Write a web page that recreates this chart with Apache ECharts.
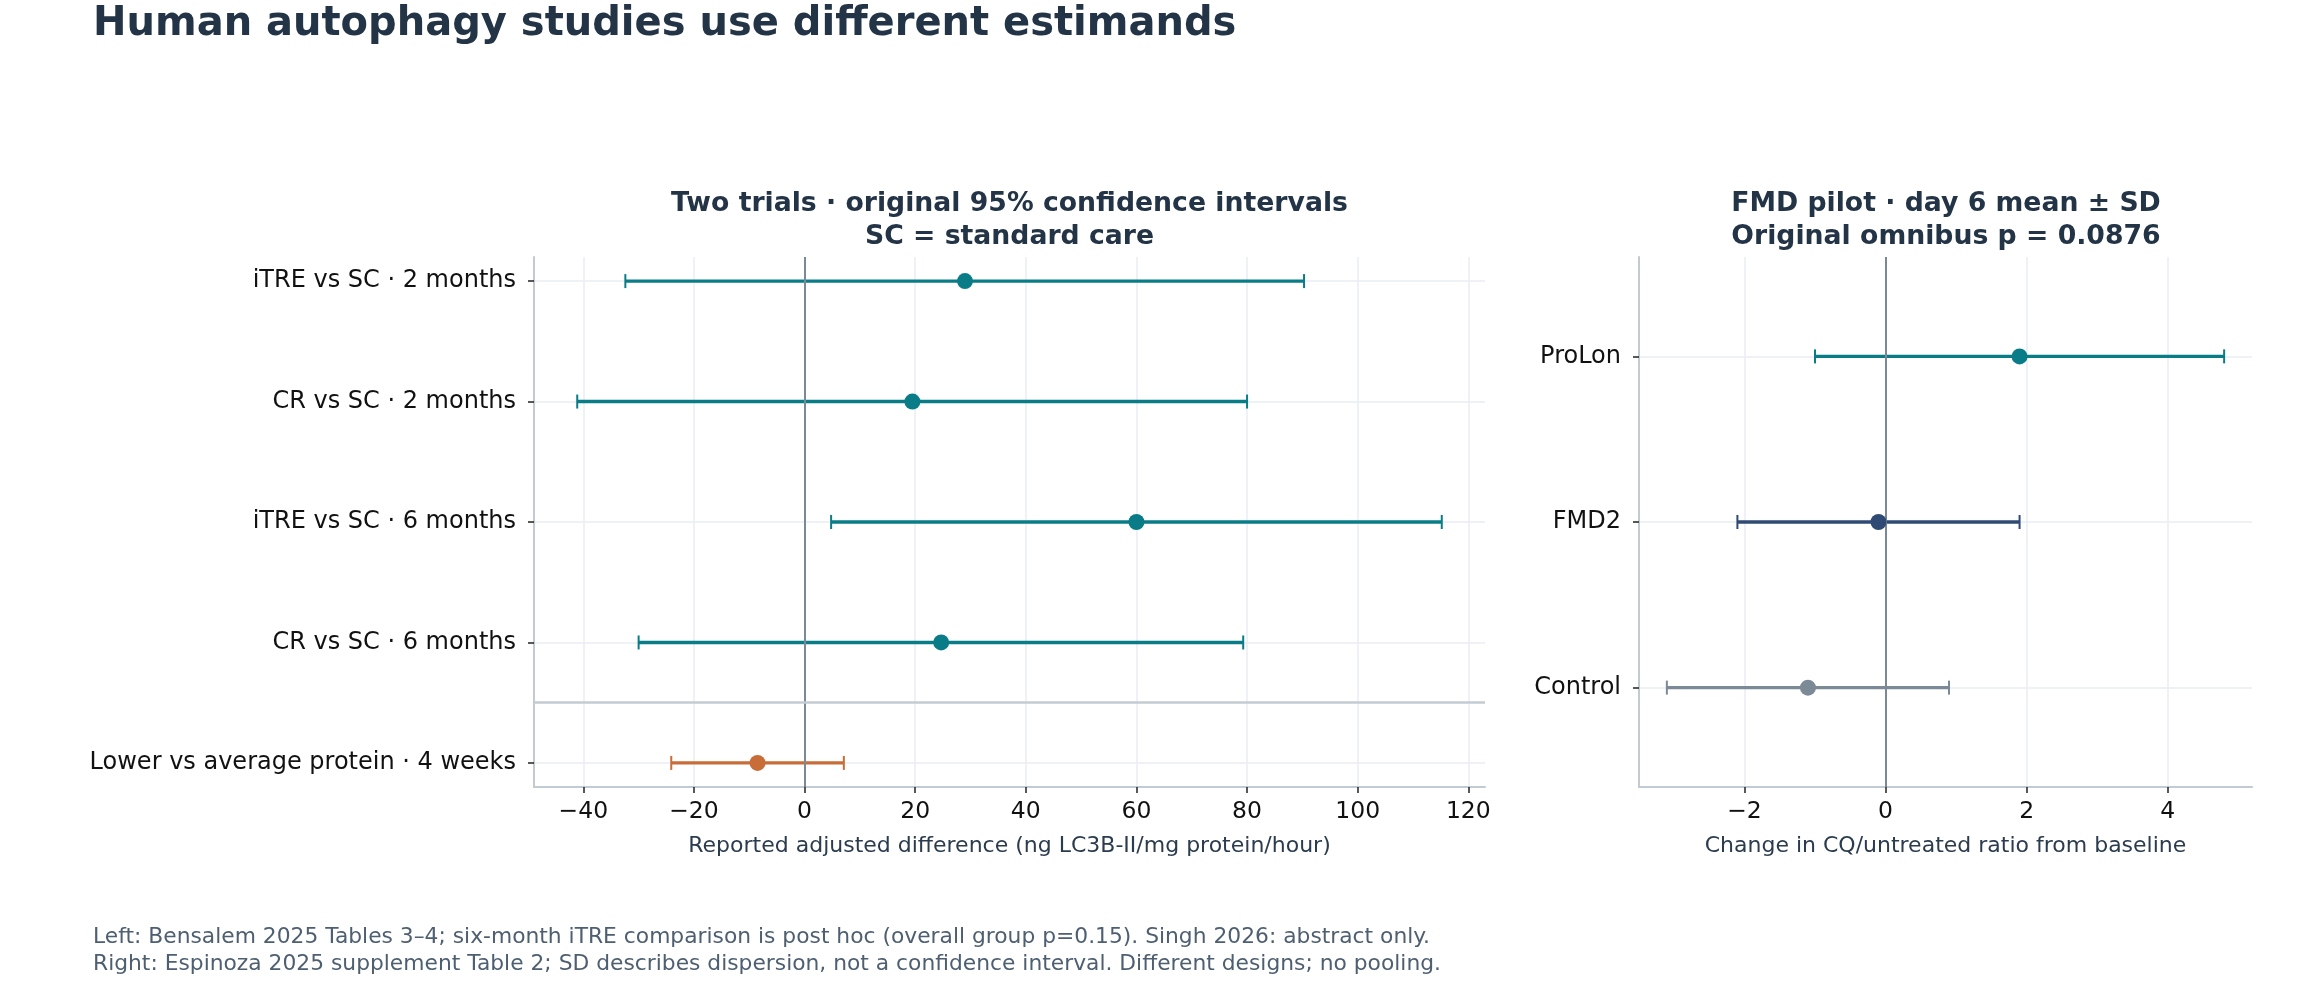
<!DOCTYPE html>
<html>
<head>
<meta charset="utf-8">
<script src="https://cdn.jsdelivr.net/npm/echarts@6/dist/echarts.min.js"></script>
<style>
html,body{margin:0;padding:0;background:#fff;}
#chart{width:2320px;height:992px;}
</style>
</head>
<body>
<div id="chart"></div>
<script>
// ---- data ----
const leftLabels = [
  'iTRE vs SC · 2 months',
  'CR vs SC · 2 months',
  'iTRE vs SC · 6 months',
  'CR vs SC · 6 months',
  'Lower vs average protein · 4 weeks'
];
const leftEstimate = [29.0, 19.5, 60.0, 24.7, -8.5];
const leftLower = [-32.4, -41.1, 4.8, -30.0, -24.1];
const leftUpper = [90.3, 80.0, 115.2, 79.3, 7.1];
const leftTicks = [-40, -20, 0, 20, 40, 60, 80, 100, 120];

const rightLabels = ['ProLon', 'FMD2', 'Control'];
const rightMean = [1.9, -0.1, -1.1];
const rightSD = [2.9, 2.0, 2.0];
const rightTicks = [-2, 0, 2, 4];

// ---- styles ----
const TEAL = '#0a7c87', ORANGE = '#c86c38', NAVY = '#2f4a73', SLATE = '#7c8a98';
const leftColors = [TEAL, TEAL, TEAL, TEAL, ORANGE];
const rightColors = [TEAL, NAVY, SLATE];
const FONT = 'DejaVu Sans';
const INK = '#243447';

const rightLower = rightMean.map((m, i) => +(m - rightSD[i]).toFixed(3));
const rightUpper = rightMean.map((m, i) => +(m + rightSD[i]).toFixed(3));

function padRange(lo, hi) {
  const a = Math.min(...lo), b = Math.max(...hi), r = b - a;
  return [a - 0.05 * r, b + 0.05 * r];
}
const leftRange = padRange(leftLower, leftUpper);
const rightRange = padRange(rightLower, rightUpper);

const minusFmt = v => (v < 0 ? '\u2212' + Math.abs(v) : String(v));

function errRender(colors) {
  return function (params, api) {
    const y = api.value(2);
    const lo = api.coord([api.value(0), y]);
    const hi = api.coord([api.value(1), y]);
    const c = colors[params.dataIndex];
    const h = 7;
    return {
      type: 'group',
      children: [
        { type: 'line', shape: { x1: lo[0], y1: lo[1], x2: hi[0], y2: hi[1] }, style: { stroke: c, lineWidth: 3.4 } },
        { type: 'line', shape: { x1: lo[0], y1: lo[1] - h, x2: lo[0], y2: lo[1] + h }, style: { stroke: c, lineWidth: 2 } },
        { type: 'line', shape: { x1: hi[0], y1: hi[1] - h, x2: hi[0], y2: hi[1] + h }, style: { stroke: c, lineWidth: 2 } }
      ]
    };
  };
}

function xAxisCfg(gridIndex, range, ticks, name) {
  return {
    type: 'value', gridIndex, min: range[0], max: range[1], position: 'bottom',
    name, nameLocation: 'middle', nameGap: 48,
    nameTextStyle: { fontFamily: FONT, fontSize: 22, color: '#2b3c4e' },
    axisLine: { show: true, onZero: false, lineStyle: { color: '#c2cad3', width: 2 } },
    axisTick: { show: true, length: 6, customValues: ticks, lineStyle: { color: '#222', width: 1.5 } },
    axisLabel: { customValues: ticks, formatter: minusFmt, margin: 13, fontFamily: FONT, fontSize: 23.5, color: '#111' },
    splitLine: { show: true, lineStyle: { color: '#e9eef3', width: 1.5 } }
  };
}

function yAxisCfg(gridIndex, labels, pad) {
  const vals = labels.map((_, i) => i);
  return {
    type: 'value', gridIndex, inverse: true, min: -pad, max: labels.length - 1 + pad, position: 'left',
    axisLine: { show: true, onZero: false, lineStyle: { color: '#c2cad3', width: 2 } },
    axisTick: { show: true, length: 6, customValues: vals, lineStyle: { color: '#222', width: 1.5 } },
    axisLabel: { customValues: vals, formatter: v => labels[Math.round(v)] || '', margin: 18, fontFamily: FONT, fontSize: 24, color: '#111' },
    splitLine: { show: true, lineStyle: { color: '#e9eef3', width: 1.5 } }
  };
}

const chart = echarts.init(document.getElementById('chart'), null, { renderer: 'canvas' });
chart.setOption({
  backgroundColor: '#ffffff',
  animation: false,
  title: [
    { text: 'Human autophagy studies use different estimands', left: 88, top: 0,
      textStyle: { fontFamily: FONT, fontSize: 40, fontWeight: 'bold', color: INK } },
    { text: 'Two trials · original 95% confidence intervals\nSC = standard care', left: 1004.5, top: 183, textAlign: 'center',
      textStyle: { fontFamily: FONT, fontSize: 26.7, fontWeight: 'bold', color: INK, lineHeight: 33 } },
    { text: 'FMD pilot · day 6 mean ± SD\nOriginal omnibus p = 0.0876', left: 1941, top: 183, textAlign: 'center',
      textStyle: { fontFamily: FONT, fontSize: 26.7, fontWeight: 'bold', color: INK, lineHeight: 33 } },
    { text: 'Left: Bensalem 2025 Tables 3–4; six-month iTRE comparison is post hoc (overall group p=0.15). Singh 2026: abstract only.\nRight: Espinoza 2025 supplement Table 2; SD describes dispersion, not a confidence interval. Different designs; no pooling.',
      left: 88, top: 919,
      textStyle: { fontFamily: FONT, fontSize: 21.8, fontWeight: 'normal', color: '#4d5f70', lineHeight: 27 } }
  ],
  grid: [
    { left: 534, top: 257, width: 951, height: 530 },
    { left: 1639, top: 257, width: 613, height: 530 }
  ],
  xAxis: [
    xAxisCfg(0, leftRange, leftTicks, 'Reported adjusted difference (ng LC3B-II/mg protein/hour)'),
    xAxisCfg(1, rightRange, rightTicks, 'Change in CQ/untreated ratio from baseline')
  ],
  yAxis: [
    yAxisCfg(0, leftLabels, 0.2),
    yAxisCfg(1, rightLabels, 0.6)
  ],
  series: [
    { type: 'custom', xAxisIndex: 0, yAxisIndex: 0, z: 3,
      renderItem: errRender(leftColors),
      encode: { x: [0, 1], y: 2 },
      data: leftLabels.map((_, i) => [leftLower[i], leftUpper[i], i]),
      markLine: { silent: true, symbol: 'none', label: { show: false }, animation: false,
        data: [
          { yAxis: 3.5, lineStyle: { color: '#c3cbd3', width: 2.5, type: 'solid' } }
        ] }
    },
    { type: 'scatter', xAxisIndex: 0, yAxisIndex: 0, z: 5, symbolSize: 16,
      itemStyle: { opacity: 1, color: p => leftColors[p.dataIndex] },
      data: leftLabels.map((_, i) => [leftEstimate[i], i]),
      markLine: { silent: true, symbol: 'none', label: { show: false }, animation: false, z: 4,
        data: [{ xAxis: 0, lineStyle: { color: '#7b8896', width: 2, type: 'solid' } }] }
    },
    { type: 'custom', xAxisIndex: 1, yAxisIndex: 1, z: 3,
      renderItem: errRender(rightColors),
      encode: { x: [0, 1], y: 2 },
      data: rightLabels.map((_, i) => [rightLower[i], rightUpper[i], i])
    },
    { type: 'scatter', xAxisIndex: 1, yAxisIndex: 1, z: 5, symbolSize: 16,
      itemStyle: { opacity: 1, color: p => rightColors[p.dataIndex] },
      data: rightLabels.map((_, i) => [rightMean[i], i]),
      markLine: { silent: true, symbol: 'none', label: { show: false }, animation: false, z: 4,
        data: [{ xAxis: 0, lineStyle: { color: '#7b8896', width: 2, type: 'solid' } }] }
    }
  ]
});
</script>
</body>
</html>
